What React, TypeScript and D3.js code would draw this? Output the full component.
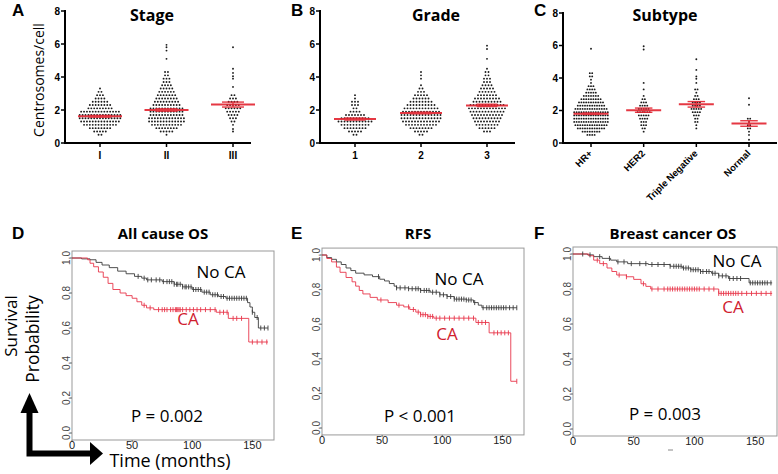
import React from 'react';
import * as d3 from 'd3';

// ---------- Panels A–C: [centrosomes/cell, number of tumours at that value] ----------
const scatterTicks = [0, 2, 4, 6, 8];

const stageCategories = ['I', 'II', 'III'];
const stageI = [[0.5,2],[0.7,5],[0.9,8],[1.1,12],[1.3,14],[1.5,15],[1.7,15],[1.9,14],[2.1,9],[2.3,8],[2.5,6],[2.7,4],[2.9,3],[3.1,2],[3.3,1]];
const stageII = [[0.5,1],[0.7,5],[0.9,8],[1.1,11],[1.3,13],[1.5,13],[1.7,12],[1.9,12],[2.1,12],[2.3,10],[2.5,9],[2.7,8],[2.9,7],[3.1,6],[3.3,5],[3.5,4],[3.7,3],[3.9,3],[4.1,2],[4.3,2],[5.1,1],[5.6,1],[5.8,1],[5.95,1]];
const stageIII = [[0.7,1],[0.85,1],[1.1,1],[1.3,2],[1.5,3],[1.7,4],[1.9,5],[2.1,6],[2.3,5],[2.5,4],[2.7,3],[2.9,2],[3.4,1],[3.9,1],[4.05,1],[4.25,1],[4.5,1],[5.8,1]];
const stageMeans = [1.62, 2.0, 2.33];
const stageSems = [0.05, 0.07, 0.15];

const gradeCategories = ['1', '2', '3'];
const grade1 = [[0.5,2],[0.7,5],[0.9,8],[1.1,10],[1.3,12],[1.5,10],[1.7,7],[1.9,4],[2.1,2],[2.3,3],[2.5,3],[2.7,1],[2.9,1]];
const grade2 = [[0.5,2],[0.7,5],[0.9,8],[1.1,11],[1.3,13],[1.5,14],[1.7,14],[1.9,13],[2.1,12],[2.3,10],[2.5,8],[2.7,6],[2.9,5],[3.1,3],[3.3,2],[3.5,1],[3.9,1],[4.1,1],[4.3,1]];
const grade3 = [[0.7,3],[0.9,6],[1.1,8],[1.3,9],[1.5,10],[1.7,11],[1.9,12],[2.1,13],[2.3,12],[2.5,10],[2.7,9],[2.9,7],[3.1,6],[3.3,5],[3.5,4],[3.7,3],[3.9,3],[4.1,2],[4.3,2],[4.5,1],[5.1,1],[5.7,1],[5.9,1]];
const gradeMeans = [1.45, 1.82, 2.28];
const gradeSems = [0.06, 0.05, 0.07];

const subtypeCategories = ['HR+', 'HER2', 'Triple Negative', 'Normal'];
const hrPlus = [[0.5,4],[0.7,8],[0.9,12],[1.1,14],[1.3,15],[1.5,15],[1.7,15],[1.9,15],[2.1,14],[2.3,12],[2.5,11],[2.7,9],[2.9,7],[3.1,5],[3.3,4],[3.5,3],[3.7,1],[3.9,1],[4.1,2],[4.3,2],[5.8,1]];
const her2 = [[0.7,1],[0.9,2],[1.1,3],[1.3,3],[1.5,4],[1.7,5],[1.9,6],[2.1,5],[2.3,4],[2.5,3],[2.7,2],[2.9,1],[3.3,1],[3.7,1],[5.75,1],[5.95,1]];
const tripleNeg = [[0.9,1],[1.1,1],[1.3,2],[1.5,2],[1.7,3],[1.9,4],[2.1,5],[2.3,4],[2.5,4],[2.7,3],[2.9,2],[3.1,1],[3.3,2],[3.7,1],[3.95,1],[4.1,1],[4.5,1],[5.15,1]];
const normal = [[0.2,1],[0.5,1],[0.7,1],[0.9,2],[1.1,2],[1.3,1],[1.5,2],[2.35,1],[2.75,1]];
const subtypeMeans = [1.8, 2.02, 2.38, 1.2];
const subtypeSems = [0.04, 0.13, 0.17, 0.17];

// ---------- Panels D–F: Kaplan–Meier steps [months, survival] ----------
const kmTicksX = [0, 50, 100, 150];
const kmTicksY = [0, 0.2, 0.4, 0.6, 0.8, 1.0];

const osNoCA = [[0,1],[8,0.995],[15,0.99],[20,0.975],[25,0.96],[31,0.945],[38,0.925],[45,0.91],[52,0.895],[58,0.885],[62,0.875],[75,0.865],[85,0.85],[92,0.835],[100,0.82],[108,0.805],[115,0.79],[122,0.78],[128,0.77],[146,0.745],[148,0.72],[150,0.69],[152,0.66],[155,0.6]];
const osCA = [[0,1],[13,0.99],[15,0.97],[18,0.95],[22,0.92],[26,0.89],[30,0.855],[34,0.82],[40,0.8],[45,0.785],[50,0.77],[54,0.75],[58,0.73],[62,0.715],[68,0.705],[120,0.69],[130,0.655],[147,0.52]];
const osNoCACensor = [55,60,63,66,70,73,76,79,81,83,85,87,88,90,92,94,95,97,99,101,103,105,107,110,112,114,117,119,121,124,126,129,131,133,135,137,139,141,143,145,150,154,157,160,163];
const osCACensor = [60,65,72,75,77,79,82,84,86,87,88,89,90,92,95,98,101,104,107,111,115,119,123,126,129,134,137,141,150,154,158,162];
const osEnd = 163;

const rfsNoCA = [[0,1],[4,0.985],[8,0.975],[12,0.96],[16,0.945],[20,0.925],[24,0.91],[28,0.895],[35,0.885],[42,0.875],[48,0.86],[52,0.85],[56,0.835],[60,0.82],[62,0.81],[72,0.805],[82,0.795],[90,0.785],[98,0.77],[104,0.76],[110,0.745],[120,0.74],[126,0.725],[130,0.71],[133,0.695]];
const rfsCA = [[0,1],[4,0.98],[8,0.96],[12,0.93],[15,0.9],[20,0.87],[25,0.845],[28,0.82],[31,0.795],[34,0.775],[40,0.755],[46,0.74],[55,0.725],[62,0.71],[68,0.7],[73,0.685],[78,0.67],[82,0.655],[88,0.645],[93,0.635],[128,0.61],[139,0.55],[157,0.27]];
const rfsNoCACensor = [47,62,65,69,72,75,78,80,82,85,87,89,92,95,98,101,104,107,110,112,114,116,118,120,122,124,127,134,137,139,141,143,145,147,149,151,153,156,159,162];
const rfsCACensor = [49,64,72,76,80,82,84,86,88,90,92,95,98,102,106,110,114,118,122,126,130,133,136,143,146,149,152,155,162];
const rfsEnd = 162;

const bcNoCA = [[0,1],[12,0.995],[17,0.985],[24,0.975],[31,0.965],[36,0.955],[45,0.945],[62,0.94],[80,0.93],[90,0.92],[97,0.91],[105,0.9],[114,0.89],[120,0.875],[128,0.86],[145,0.835]];
const bcCA = [[0,1],[13,0.99],[17,0.965],[22,0.945],[28,0.92],[32,0.9],[36,0.88],[44,0.87],[50,0.855],[56,0.83],[60,0.815],[64,0.8],[120,0.775]];
const bcNoCACensor = [8,14,22,30,37,42,48,55,60,65,70,75,80,83,85,87,89,91,93,95,97,99,101,103,105,107,110,112,115,117,120,123,126,129,132,135,138,146,148,150,152,154,156,158,160,163];
const bcCACensor = [20,25,38,44,58,65,70,75,78,80,82,84,86,88,90,92,94,96,98,100,102,104,108,112,116,120,122,124,126,128,130,132,134,136,139,143,147,151,155,159,163];
const bcEnd = 164;

const RED = '#e3232f';
const KM_RED = '#e8374b';
const KM_BLACK = '#3c3c3c';
const ARIAL = "'Liberation Sans', Arial, sans-serif";
const SANS = "'Open Sans', sans-serif";

function ScatterPanel(props: any) {
  const { cats, groups, means, sems, axisX, axisEnd, yTop, yBottom, range, spacing, meanW, rotate } = props;
  const y = d3.scaleLinear().domain([0, 8]).range([yBottom, yTop]);
  const x = d3.scalePoint<string>().domain(cats).range(range);
  const dots: { cx: number; cy: number }[] = [];
  groups.forEach((bins: number[][], i: number) => {
    const c = x(cats[i]) as number;
    bins.forEach(([v, n]) => {
      for (let k = 0; k < n; k++) dots.push({ cx: c + (k - (n - 1) / 2) * spacing, cy: y(v) });
    });
  });
  return (
    <g>
      {dots.map((d, i) => <circle key={i} cx={d.cx} cy={d.cy} r={0.95} fill="#1a1a1a" />)}
      {cats.map((c: string, i: number) => {
        const cx = x(c) as number;
        const m = y(means[i]);
        const hi = y(means[i] + sems[i]);
        const lo = y(means[i] - sems[i]);
        return (
          <g key={c} stroke={RED} opacity={0.9}>
            <line x1={cx - meanW / 2} x2={cx + meanW / 2} y1={m} y2={m} strokeWidth={2} />
            <line x1={cx - meanW / 4} x2={cx + meanW / 4} y1={hi} y2={hi} strokeWidth={1.4} />
            <line x1={cx - meanW / 4} x2={cx + meanW / 4} y1={lo} y2={lo} strokeWidth={1.4} />
            <line x1={cx} x2={cx} y1={hi} y2={lo} strokeWidth={1.4} />
          </g>
        );
      })}
      <line x1={axisX} x2={axisX} y1={y(8) - 1} y2={y(0) + 1} stroke="#000" strokeWidth={2} />
      <line x1={axisX - 1} x2={axisEnd} y1={y(0)} y2={y(0)} stroke="#000" strokeWidth={2} />
      {scatterTicks.map(t => (
        <g key={t}>
          <line x1={axisX - 4} x2={axisX} y1={y(t)} y2={y(t)} stroke="#000" strokeWidth={1.5} />
          <text x={axisX - 5} y={y(t) + 3.5} textAnchor="end" fontFamily={ARIAL} fontWeight="bold" fontSize={10}>{t}</text>
        </g>
      ))}
      {cats.map((c: string) => {
        const cx = x(c) as number;
        return (
          <g key={c}>
            <line x1={cx} x2={cx} y1={y(0)} y2={y(0) + 4} stroke="#000" strokeWidth={1.5} />
            {rotate ? (
              <text transform={`translate(${cx + 2},${y(0) + 11}) rotate(-45)`} textAnchor="end" fontFamily={ARIAL} fontWeight="bold" fontSize={9.5}>{c}</text>
            ) : (
              <text x={cx} y={y(0) + 16} textAnchor="middle" fontFamily={ARIAL} fontWeight="bold" fontSize={10}>{c}</text>
            )}
          </g>
        );
      })}
    </g>
  );
}

function KMPanel(props: any) {
  const { noCA, ca, noCACens, caCens, end, left, right, y0, y1 } = props;
  const x = d3.scaleLinear().domain([0, 168]).range([left, right]);
  const y = d3.scaleLinear().domain([0, 1]).range([y0, y1]);
  const line = d3.line<number[]>().x(d => x(d[0])).y(d => y(d[1])).curve(d3.curveStepAfter);
  const survAt = (steps: number[][], t: number) => {
    let s = 1;
    for (const [tt, v] of steps) if (tt <= t) s = v;
    return s;
  };
  const full = (steps: number[][]) => [...steps, [end, steps[steps.length - 1][1]]];
  const top = y(1.04);
  const bottom = y(-0.04);
  return (
    <g>
      <rect x={left} y={top} width={right - left} height={bottom - top} fill="none" stroke="#999" strokeWidth={1} />
      {kmTicksY.map(t => (
        <g key={t}>
          <line x1={left - 2} x2={left} y1={y(t)} y2={y(t)} stroke="#666" />
          <text transform={`translate(${left - 2.5},${y(t)}) rotate(-90)`} textAnchor="middle" fontFamily={ARIAL} fontSize={10} fill="#444">{t.toFixed(1)}</text>
        </g>
      ))}
      {kmTicksX.map(t => (
        <g key={t}>
          <line x1={x(t)} x2={x(t)} y1={bottom} y2={bottom + 2} stroke="#666" />
          <text x={x(t)} y={bottom + 9} textAnchor="middle" fontFamily={ARIAL} fontSize={11} fill="#222">{t}</text>
        </g>
      ))}
      <path d={line(full(noCA) as any) || ''} fill="none" stroke={KM_BLACK} strokeWidth={0.9} />
      <path d={line(full(ca) as any) || ''} fill="none" stroke={KM_RED} strokeWidth={0.9} />
      {noCACens.map((t: number, i: number) => {
        const yy = y(survAt(noCA, t));
        return <line key={'b' + i} x1={x(t)} x2={x(t)} y1={yy - 2.5} y2={yy + 2.5} stroke={KM_BLACK} strokeWidth={0.9} />;
      })}
      {caCens.map((t: number, i: number) => {
        const yy = y(survAt(ca, t));
        return <line key={'r' + i} x1={x(t)} x2={x(t)} y1={yy - 2.5} y2={yy + 2.5} stroke={KM_RED} strokeWidth={0.9} />;
      })}
    </g>
  );
}

export default function App() {
  const letter = { fontFamily: ARIAL, fontWeight: 'bold', fontSize: 17 } as any;
  const title = { fontFamily: SANS, fontWeight: 'bold', fontSize: 15, textAnchor: 'middle' } as any;
  const titleTop = { fontFamily: SANS, fontWeight: 'bold', fontSize: 16, textAnchor: 'middle' } as any;
  const big = { fontFamily: SANS, fontSize: 17, textAnchor: 'middle' } as any;
  return (
    <svg width={778} height={474} style={{ position: 'absolute', left: 0, top: 0, background: '#fff' }}>
      {/* A */}
      <ScatterPanel cats={stageCategories} groups={[stageI, stageII, stageIII]} means={stageMeans} sems={stageSems}
        axisX={65} axisEnd={251} yTop={11} yBottom={143} range={[100, 233]} spacing={2.9} meanW={44} />
      <text x={12} y={16} {...letter}>A</text>
      <text x={152} y={21} {...titleTop}>Stage</text>
      <text transform="translate(44,80) rotate(-90)" fontFamily={SANS} fontSize={14} textAnchor="middle">Centrosomes/cell</text>

      {/* B */}
      <ScatterPanel cats={gradeCategories} groups={[grade1, grade2, grade3]} means={gradeMeans} sems={gradeSems}
        axisX={320} axisEnd={515} yTop={11} yBottom={143} range={[355, 487]} spacing={3} meanW={42} />
      <text x={291} y={16} {...letter}>B</text>
      <text x={436} y={21} {...titleTop}>Grade</text>

      {/* C */}
      <ScatterPanel cats={subtypeCategories} groups={[hrPlus, her2, tripleNeg, normal]} means={subtypeMeans} sems={subtypeSems}
        axisX={563} axisEnd={777} yTop={13} yBottom={143} range={[591, 749]} spacing={2.4} meanW={35} rotate />
      <text x={534} y={16} {...letter}>C</text>
      <text x={665} y={21} {...titleTop}>Subtype</text>

      {/* D */}
      <KMPanel noCA={osNoCA} ca={osCA} noCACens={osNoCACensor} caCens={osCACensor} end={osEnd}
        left={72} right={274} y0={433} y1={258} />
      <text x={12} y={239} {...letter}>D</text>
      <text x={163} y={239} {...title}>All cause OS</text>
      <text x={221} y={278} {...big}>No CA</text>
      <text x={188} y={325} {...big} fill="#d0202e">CA</text>
      <text x={167} y={422} {...big}>P = 0.002</text>

      {/* E */}
      <KMPanel noCA={rfsNoCA} ca={rfsCA} noCACens={rfsNoCACensor} caCens={rfsCACensor} end={rfsEnd}
        left={322} right={524} y0={428} y1={255} />
      <text x={291} y={239} {...letter}>E</text>
      <text x={418} y={239} {...title}>RFS</text>
      <text x={459} y={285} {...big}>No CA</text>
      <text x={447} y={340} {...big} fill="#d0202e">CA</text>
      <text x={420} y={422} {...big}>P &lt; 0.001</text>

      {/* F */}
      <KMPanel noCA={bcNoCA} ca={bcCA} noCACens={bcNoCACensor} caCens={bcCACensor} end={bcEnd}
        left={573} right={777} y0={429} y1={254} />
      <text x={534} y={239} {...letter}>F</text>
      <text x={673} y={239} {...title}>Breast cancer OS</text>
      <text x={737} y={267} {...big}>No CA</text>
      <text x={733} y={313} {...big} fill="#d0202e">CA</text>
      <text x={665} y={420} {...big}>P = 0.003</text>
      <line x1={668} x2={673} y1={450} y2={450} stroke="#888" strokeWidth={1} />

      {/* axis explanation arrows */}
      <path d="M29.5,410 L29.5,453.5 L92,453.5" fill="none" stroke="#000" strokeWidth={6} strokeLinejoin="miter" />
      <path d="M20.5,413 L38.5,413 L29.5,393 Z" fill="#000" />
      <path d="M90,442 L90,465 L103,453.5 Z" fill="#000" />
      <text transform="translate(17,326) rotate(-90)" fontFamily={SANS} fontSize={17} textAnchor="middle">Survival</text>
      <text transform="translate(39,339) rotate(-90)" fontFamily={SANS} fontSize={17.5} textAnchor="middle">Probability</text>
      <text x={170} y={467} fontFamily={SANS} fontSize={18} textAnchor="middle">Time (months)</text>
    </svg>
  );
}
